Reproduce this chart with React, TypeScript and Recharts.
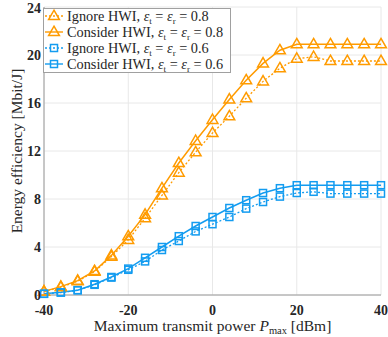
import React from 'react';
import { LineChart, Line, XAxis, YAxis, CartesianGrid, Legend, Label } from 'recharts';

const power = [-40, -36, -32, -28, -24, -20, -16, -12, -8, -4, 0, 4, 8, 12, 16, 20, 24, 28, 32, 36, 40];
const ignore08 = [0.28, 0.65, 1.15, 1.95, 3.2, 4.6, 6.4, 8.3, 10.2, 11.9, 13.5, 14.9, 16.4, 17.8, 18.9, 19.7, 19.85, 19.5, 19.5, 19.5, 19.5];
const consider08 = [0.3, 0.7, 1.2, 2.0, 3.3, 4.9, 6.7, 8.9, 11.0, 12.85, 14.6, 16.3, 17.9, 19.3, 20.4, 20.9, 20.9, 20.9, 20.9, 20.9, 20.9];
const ignore06 = [0.1, 0.2, 0.4, 0.85, 1.45, 2.1, 2.8, 3.75, 4.5, 5.3, 5.9, 6.5, 7.2, 7.75, 8.2, 8.5, 8.6, 8.45, 8.45, 8.45, 8.45];
const consider06 = [0.1, 0.22, 0.4, 0.9, 1.5, 2.2, 3.1, 4.0, 4.9, 5.75, 6.5, 7.25, 7.9, 8.5, 8.9, 9.15, 9.15, 9.15, 9.15, 9.15, 9.15];
const xTicks = [-40, -20, 0, 20, 40];
const yTicks = [0, 4, 8, 12, 16, 20, 24];

const data = power.map((p, i) => ({
  p,
  ign08: ignore08[i],
  con08: consider08[i],
  ign06: ignore06[i],
  con06: consider06[i],
}));

const ORANGE = '#FF9B00';
const BLUE = '#139CF0';
const FONT = 'Liberation Serif, Times New Roman, serif';
const AXIS = '#9a9a9a';

const Tri = ({ cx, cy, color }: any) => (
  <path
    d={`M${cx},${cy - 5.8} L${cx + 5.4},${cy + 3.6} L${cx - 5.4},${cy + 3.6} Z`}
    fill="none"
    stroke={color}
    strokeWidth={1.5}
  />
);

const Sq = ({ cx, cy, color }: any) => (
  <rect x={cx - 3.5} y={cy - 3.5} width={7} height={7} fill="none" stroke={color} strokeWidth={1.5} />
);

const triDot = (color: string) => (props: any) => <Tri key={props.index} cx={props.cx} cy={props.cy} color={color} />;
const sqDot = (color: string) => (props: any) => <Sq key={props.index} cx={props.cx} cy={props.cy} color={color} />;

const legendItems = [
  { label: 'Ignore HWI', eps: '0.8', color: ORANGE, dash: '2 2', marker: 'tri' },
  { label: 'Consider HWI', eps: '0.8', color: ORANGE, dash: undefined, marker: 'tri' },
  { label: 'Ignore HWI', eps: '0.6', color: BLUE, dash: '2 2', marker: 'sq' },
  { label: 'Consider HWI', eps: '0.6', color: BLUE, dash: undefined, marker: 'sq' },
];

// legend text: one <text> per row, sub-scripts as shifted tspans
const LegendBox = () => (
  <svg width={188} height={65} style={{ display: 'block' }}>
    <rect x={0.5} y={0.5} width={187} height={64} fill="#fff" stroke="#a0a0a0" strokeWidth={1} />
    {legendItems.map((it, i) => {
      const y = 8 + i * 16;
      return (
        <g key={i}>
          <line x1={2} x2={20} y1={y} y2={y} stroke={it.color} strokeWidth={1.4} strokeDasharray={it.dash} />
          {it.marker === 'tri' ? <Tri cx={11} cy={y} color={it.color} /> : <Sq cx={11} cy={y} color={it.color} />}
          <text x={24} y={y + 5} fontFamily={FONT} fontSize={14.3} fill="#262626">
            <tspan>{it.label}, </tspan>
            <tspan fontStyle="italic">ε</tspan>
            <tspan dy={2.5} fontSize={9}>t</tspan>
            <tspan dy={-2.5}> = </tspan>
            <tspan fontStyle="italic">ε</tspan>
            <tspan dy={2.5} fontSize={9}>r</tspan>
            <tspan dy={-2.5}> = {it.eps}</tspan>
          </text>
        </g>
      );
    })}
  </svg>
);

const XTitle = (props: any) => {
  const { x, width } = props.viewBox;
  return (
    <text x={x + width / 2} y={331} textAnchor="middle" fontFamily={FONT} fontSize={15.5} fill="#262626">
      <tspan>Maximum transmit power </tspan>
      <tspan fontStyle="italic">P</tspan>
      <tspan dy={3} fontSize={10.5}>max</tspan>
      <tspan dy={-3}> [dBm]</tspan>
    </text>
  );
};

const YTitle = (props: any) => {
  const { y, height } = props.viewBox;
  const cy = y + height / 2;
  return (
    <text
      x={16}
      y={cy}
      textAnchor="middle"
      dominantBaseline="central"
      transform={`rotate(-90, 16, ${cy})`}
      fontFamily={FONT}
      fontSize={15.5}
      fill="#262626"
    >
      Energy efficiency [Mbit/J]
    </text>
  );
};

const tickStyle = { fill: '#262626', fontFamily: FONT, fontSize: 14, fontWeight: 700 };

export default function App() {
  return (
    <div style={{ position: 'absolute', left: 0, top: 0, width: 388, height: 337, background: '#fff', fontFamily: FONT }}>
      <LineChart width={388} height={337} data={data} margin={{ top: 7, right: 7, left: 0, bottom: 0 }}>
        <CartesianGrid stroke="#e8e8e8" strokeWidth={1} />
        <XAxis
          dataKey="p"
          type="number"
          domain={[-40, 40]}
          ticks={xTicks}
          height={42}
          tick={tickStyle}
          tickLine={false}
          tickMargin={4}
          axisLine={{ stroke: AXIS }}
        >
          <Label content={<XTitle />} />
        </XAxis>
        <XAxis xAxisId="top" orientation="top" type="number" domain={[-40, 40]} height={0} tick={false} tickLine={false} axisLine={{ stroke: AXIS }} />
        <YAxis
          type="number"
          domain={[0, 24]}
          ticks={yTicks}
          width={44}
          tick={tickStyle}
          tickLine={false}
          tickSize={3}
          tickMargin={0}
          axisLine={{ stroke: AXIS }}
        >
          <Label content={<YTitle />} />
        </YAxis>
        <YAxis yAxisId="right" orientation="right" domain={[0, 24]} width={0} tick={false} tickLine={false} axisLine={{ stroke: AXIS }} />
        <Line dataKey="ign08" stroke={ORANGE} strokeWidth={1.3} strokeDasharray="2 2" dot={triDot(ORANGE)} isAnimationActive={false} />
        <Line dataKey="con08" stroke={ORANGE} strokeWidth={1.5} dot={triDot(ORANGE)} isAnimationActive={false} />
        <Line dataKey="ign06" stroke={BLUE} strokeWidth={1.3} strokeDasharray="2 2" dot={sqDot(BLUE)} isAnimationActive={false} />
        <Line dataKey="con06" stroke={BLUE} strokeWidth={1.5} dot={sqDot(BLUE)} isAnimationActive={false} />
        <Legend
          layout="horizontal"
          verticalAlign="middle"
          align="center"
          content={() => <LegendBox />}
          wrapperStyle={{ left: 43, top: 8, width: 188, height: 65 }}
        />
      </LineChart>
    </div>
  );
}
